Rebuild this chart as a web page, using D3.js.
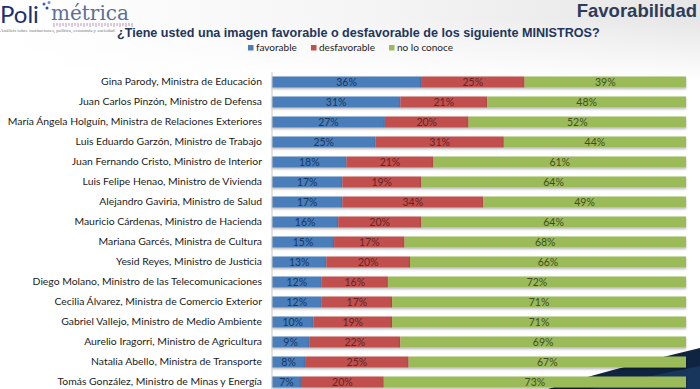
<!DOCTYPE html>
<html>
<head>
<meta charset="utf-8">
<script src="https://cdn.jsdelivr.net/npm/d3@7"></script>
<style>
  body { margin: 0; background: #fff; }
  svg { display: block; }
</style>
</head>
<body>
<div id="chart"></div>
<script>
// Chart data
var ministros = [
  "Gina Parody, Ministra de Educación",
  "Juan Carlos Pinzón, Ministro de Defensa",
  "María Ángela Holguín, Ministra de Relaciones Exteriores",
  "Luis Eduardo Garzón, Ministro de Trabajo",
  "Juan Fernando Cristo, Ministro de Interior",
  "Luis Felipe Henao, Ministro de Vivienda",
  "Alejandro Gaviria, Ministro de Salud",
  "Mauricio Cárdenas, Ministro de Hacienda",
  "Mariana Garcés, Ministra de Cultura",
  "Yesid Reyes, Ministro de Justicia",
  "Diego Molano, Ministro de las Telecomunicaciones",
  "Cecilia Álvarez, Ministra de Comercio Exterior",
  "Gabriel Vallejo, Ministro de Medio Ambiente",
  "Aurelio Iragorri, Ministro de Agricultura",
  "Natalia Abello, Ministra de Transporte",
  "Tomás González, Ministro de Minas y Energía"
];
var favorable    = [36, 31, 27, 25, 18, 17, 17, 16, 15, 13, 12, 12, 10, 9, 8, 7];
var desfavorable = [25, 21, 20, 31, 21, 19, 34, 20, 17, 20, 16, 17, 19, 22, 25, 20];
var noConoce     = [39, 48, 52, 44, 61, 64, 49, 64, 68, 66, 72, 71, 71, 69, 67, 73];

var seriesKeys   = ["favorable", "desfavorable", "noConoce"];
var seriesNames  = ["favorable", "desfavorable", "no lo conoce"];
var seriesColors = ["#4a7ebb", "#c0504d", "#9bbb59"];
var labelColors  = ["#17375e", "#632523", "#3f4f1f"];

// Chart params
var svgWidth = 700;
var svgHeight = 389;
var margin = { top: 72, right: 14, bottom: -3, left: 272 };
var width = svgWidth - margin.left - margin.right;
var height = svgHeight - margin.top - margin.bottom;

var rows = ministros.map(function(name, i) {
  return { name: name, favorable: favorable[i], desfavorable: desfavorable[i], noConoce: noConoce[i] };
});

var svg = d3.select("#chart")
  .append("svg")
  .attr("width", svgWidth)
  .attr("height", svgHeight);

var defs = svg.append("defs");
var grad = defs.append("linearGradient").attr("id", "topgrad")
  .attr("x1", "0").attr("x2", "1").attr("y1", "0").attr("y2", "0");
grad.append("stop").attr("offset", "0").attr("stop-color", "#ffffff");
grad.append("stop").attr("offset", "0.55").attr("stop-color", "#f4f4f4");
grad.append("stop").attr("offset", "1").attr("stop-color", "#e6e6e6");
var grad2 = defs.append("linearGradient").attr("id", "fade")
  .attr("x1", "0").attr("x2", "0").attr("y1", "0").attr("y2", "1");
grad2.append("stop").attr("offset", "0").attr("stop-color", "#fff").attr("stop-opacity", 0);
grad2.append("stop").attr("offset", "1").attr("stop-color", "#fff").attr("stop-opacity", 1);
defs.append("filter").attr("id", "shadow")
  .attr("x", "-2%").attr("y", "-20%").attr("width", "104%").attr("height", "160%")
  .append("feDropShadow")
  .attr("dx", 0).attr("dy", 1.5).attr("stdDeviation", 0.8)
  .attr("flood-color", "#000").attr("flood-opacity", 0.3);

// background shading at top
svg.append("rect").attr("width", svgWidth).attr("height", 80).attr("fill", "url(#topgrad)");
svg.append("rect").attr("y", 20).attr("width", svgWidth).attr("height", 62).attr("fill", "url(#fade)");

// decorative swoosh bottom-right
svg.append("path")
  .attr("d", "M548,389 Q600,372 700,348 L700,389 Z")
  .attr("fill", "#0f2440");
svg.append("path")
  .attr("d", "M590,389 Q640,378 700,366 L700,389 Z")
  .attr("fill", "#1d3d66")
  .attr("opacity", 0.7);

// logo
var logo = svg.append("g");
logo.append("text")
  .attr("x", 0).attr("y", 23)
  .style("font-family", "Lato, 'Open Sans', sans-serif")
  .style("font-size", "24px")
  .style("fill", "#1c2f6e")
  .text("Poli");
logo.append("text")
  .attr("x", 51).attr("y", 20)
  .style("font-family", "'DejaVu Serif', 'Liberation Serif', serif")
  .style("font-size", "20px")
  .style("fill", "#5b6f96")
  .text("métrica");
[[44, 4, "#3a63b8"], [49, 2.5, "#6f8fd0"], [47, 8, "#2a4fa0"]].forEach(function(d) {
  logo.append("circle").attr("cx", d[0]).attr("cy", d[1]).attr("r", 1.5).attr("fill", d[2]);
});
logo.append("g").selectAll("line")
  .data(d3.range(54, 134, 3))
  .enter()
  .append("line")
  .attr("x1", d => d).attr("x2", d => d)
  .attr("y1", 23).attr("y2", (d, i) => i % 2 ? 26 : 27)
  .attr("stroke", "#b07aa8").attr("stroke-width", 0.8);
logo.append("text")
  .attr("x", 0).attr("y", 32)
  .style("font-family", "'Liberation Serif', serif")
  .style("font-size", "4.9px")
  .style("fill", "#777")
  .text("Análisis sobre instituciones, política, economía y sociedad");

// headings
svg.append("text")
  .attr("x", 697).attr("y", 17)
  .attr("text-anchor", "end")
  .style("font-family", "'Liberation Sans', Arial, sans-serif")
  .style("font-weight", "bold")
  .style("font-size", "18.5px")
  .style("fill", "#2e3c58")
  .text("Favorabilidad");

svg.append("text")
  .attr("x", 117).attr("y", 37)
  .style("font-family", "'Liberation Sans', Arial, sans-serif")
  .style("font-weight", "bold")
  .style("font-size", "12.6px")
  .style("fill", "#23355c")
  .text("¿Tiene usted una imagen favorable o desfavorable de los siguiente MINISTROS?");

// legend
var legendX = [248, 311, 389];
var legend = svg.append("g").selectAll("g")
  .data(seriesNames)
  .enter()
  .append("g")
  .attr("transform", (d, i) => `translate(${legendX[i]}, 45)`);
legend.append("rect")
  .attr("width", 5.5).attr("height", 5.5)
  .attr("fill", (d, i) => seriesColors[i]);
legend.append("text")
  .attr("x", 8).attr("y", 6)
  .style("font-family", "Lato, sans-serif")
  .style("font-size", "10px")
  .style("fill", "#222")
  .text(d => d);

var chartGroup = svg.append("g")
  .attr("transform", `translate(${margin.left}, ${margin.top})`);

// scales
var xScale = d3.scaleLinear().domain([0, 1]).range([0, width]);
var yScale = d3.scaleBand()
  .domain(ministros)
  .range([0, 320])
  .paddingInner(0.45)
  .paddingOuter(0.225);

var stacked = d3.stack().keys(seriesKeys).offset(d3.stackOffsetExpand)(rows);

var layers = chartGroup.selectAll(".layer")
  .data(stacked)
  .enter()
  .append("g")
  .attr("class", "layer")
  .attr("fill", (d, i) => seriesColors[i]);

layers.selectAll("rect")
  .data(d => d)
  .enter()
  .append("rect")
  .attr("x", d => xScale(d[0]))
  .attr("y", d => yScale(d.data.name))
  .attr("width", d => xScale(d[1]) - xScale(d[0]))
  .attr("height", yScale.bandwidth())
  .attr("filter", "url(#shadow)");

layers.each(function(layer, li) {
  d3.select(this).selectAll("text")
    .data(layer)
    .enter()
    .append("text")
    .attr("x", d => (xScale(d[0]) + xScale(d[1])) / 2)
    .attr("y", d => yScale(d.data.name) + yScale.bandwidth() / 2)
    .attr("dy", "0.36em")
    .attr("text-anchor", "middle")
    .style("font-family", "Lato, sans-serif")
    .style("font-size", "10.5px")
    .style("fill", labelColors[li])
    .text(d => d.data[layer.key] + "%");
});

// y axis with names
var yAxis = d3.axisLeft(yScale).tickSize(0).tickPadding(10);
var axisG = chartGroup.append("g").call(yAxis);
axisG.select(".domain").attr("stroke", "#c8c8c8").attr("d", "M0,0V" + height);
axisG.selectAll("text")
  .style("font-family", "Lato, sans-serif")
  .style("font-size", "10.4px")
  .style("fill", "#1a1a1a");
</script>
</body>
</html>
